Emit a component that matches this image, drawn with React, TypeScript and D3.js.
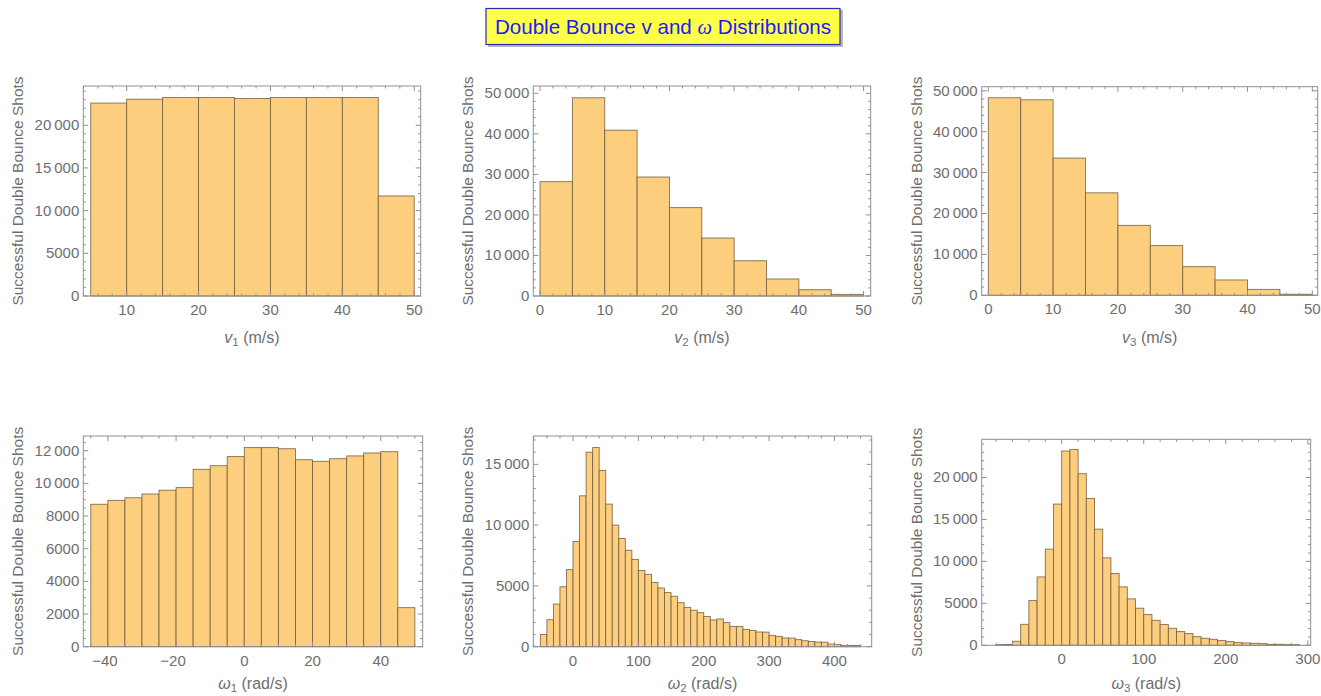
import React, { useEffect, useRef } from 'react'
import * as d3 from 'd3'

// Histogram counts, one value per bin
const v1Counts = [22600, 23050, 23250, 23250, 23130, 23250, 23250, 23250, 11720]
const v2Counts = [28200, 48900, 40900, 29350, 21800, 14300, 8700, 4200, 1550, 400]
const v3Counts = [48300, 47800, 33550, 25050, 17100, 12150, 7000, 3750, 1450, 250]
const w1Counts = [
  8720, 8960, 9120, 9350, 9580, 9740, 10860, 11080, 11640, 12190,
  12190, 12120, 11450, 11350, 11510, 11680, 11860, 11940, 2390,
]
const w2Counts = [
  1000, 2220, 3510, 4930, 6340, 8660, 12410, 16000, 16380, 14500,
  11730, 10000, 8900, 7930, 7180, 6270, 5950, 5290, 4830, 4450,
  4150, 3620, 3230, 3000, 2800, 2480, 2200, 2280, 1980, 1670,
  1670, 1420, 1340, 1210, 1200, 930, 850, 720, 710, 580,
  490, 430, 380, 370, 220, 190, 110, 110, 100,
]
const w3Counts = [
  80, 100, 480, 2500, 5330, 8150, 11460, 16830, 23150, 23350,
  20450, 17500, 13840, 10420, 8550, 6960, 5530, 4420, 3660, 2980,
  2470, 2030, 1630, 1390, 1030, 840, 720, 560, 440, 320,
  280, 240, 200, 120, 120, 80, 80,
]

// bin starts and widths
const v1Bin = [5, 5]
const v2Bin = [0, 5]
const v3Bin = [0, 5]
const w1Bin = [-45, 5]
const w2Bin = [-50, 10]
const w3Bin = [-80, 10]

// tick labels
const v1XTicks = [10, 20, 30, 40, 50]
const vXTicks = [0, 10, 20, 30, 40, 50]
const w1XTicks = [-40, -20, 0, 20, 40]
const w2XTicks = [0, 100, 200, 300, 400]
const w3XTicks = [0, 100, 200, 300]
const v1YTicks = [0, 5000, 10000, 15000, 20000]
const vYTicks = [0, 10000, 20000, 30000, 40000, 50000]
const w1YTicks = [0, 2000, 4000, 6000, 8000, 10000, 12000]
const w2YTicks = [0, 5000, 10000, 15000]
const w3YTicks = [0, 5000, 10000, 15000, 20000]

const yTitle = 'Successful Double Bounce Shots'

const panels = [
  { sym: 'v', sub: '1', unit: ' (m/s)', counts: v1Counts, bin: v1Bin, xt: v1XTicks, yt: v1YTicks,
    xMinor: 2, yMinor: 1000, xd: [3.97, 50.9], yMax: 24600, box: [83.3, 86, 420.7, 296], labY: 343 },
  { sym: 'v', sub: '2', unit: ' (m/s)', counts: v2Counts, bin: v2Bin, xt: vXTicks, yt: vYTicks,
    xMinor: 2, yMinor: 2000, xd: [-1.04, 51.1], yMax: 51800, box: [533.3, 86, 870.7, 296], labY: 343 },
  { sym: 'v', sub: '3', unit: ' (m/s)', counts: v3Counts, bin: v3Bin, xt: vXTicks, yt: vYTicks,
    xMinor: 2, yMinor: 2000, xd: [-1.02, 50.83], yMax: 51000, box: [981.7, 86.7, 1317.7, 295.3], labY: 343 },
  { sym: 'ω', sub: '1', unit: ' (rad/s)', counts: w1Counts, bin: w1Bin, xt: w1XTicks, yt: w1YTicks,
    xMinor: 5, yMinor: 500, xd: [-47.2, 52.3], yMax: 12900, box: [83.3, 436, 422.7, 646.7], labY: 689 },
  { sym: 'ω', sub: '2', unit: ' (rad/s)', counts: w2Counts, bin: w2Bin, xt: w2XTicks, yt: w2YTicks,
    xMinor: 20, yMinor: 1000, xd: [-60.8, 457], yMax: 17330, box: [533.3, 436, 871.7, 646.7], labY: 689 },
  { sym: 'ω', sub: '3', unit: ' (rad/s)', counts: w3Counts, bin: w3Bin, xt: w3XTicks, yt: w3YTicks,
    xMinor: 20, yMinor: 1000, xd: [-97.5, 303.5], yMax: 24550, box: [981.7, 439.3, 1310.7, 645.3], labY: 689 },
]

const font = "'Liberation Sans', Arial, sans-serif"
const labelGray = '#6e6e6e'
const frameGray = '#8f8f8f'

function fmt(v: number) {
  const s = String(Math.abs(v))
  const body = Math.abs(v) >= 10000 ? s.slice(0, s.length - 3) + '\u2009' + s.slice(-3) : s
  return (v < 0 ? '\u2212' : '') + body
}

export default function App() {
  const ref = useRef<SVGSVGElement | null>(null)

  useEffect(() => {
    const svg = d3.select(ref.current)
    svg.selectAll('*').remove()

    // Title box
    const title = svg.append('g')
    title.append('rect').attr('x', 488).attr('y', 10).attr('width', 355).attr('height', 37).attr('fill', '#b8b8b8')
    title.append('rect').attr('x', 486).attr('y', 8.5).attr('width', 354).attr('height', 36)
      .attr('fill', '#ffff47').attr('stroke', '#2b2bb0').attr('stroke-width', 1.2)
    const tt = title.append('text').attr('x', 663).attr('y', 34).attr('text-anchor', 'middle')
      .attr('font-family', font).attr('font-size', 20.6).attr('fill', '#1a1aff')
    tt.append('tspan').text('Double Bounce v and ')
    tt.append('tspan').attr('font-style', 'italic').attr('font-family', "'Liberation Serif', serif").text('ω')
    tt.append('tspan').text(' Distributions')

    panels.forEach(p => {
      const [l, t, r, b] = p.box
      const x = d3.scaleLinear().domain(p.xd).range([l, r])
      const y = d3.scaleLinear().domain([0, p.yMax]).range([b, t])
      const g = svg.append('g')

      const bins = p.counts.map((c, i) => ({ x0: p.bin[0] + i * p.bin[1], x1: p.bin[0] + (i + 1) * p.bin[1], c }))
      g.selectAll('rect.bar').data(bins).enter().append('rect')
        .attr('class', 'bar')
        .attr('x', d => x(d.x0))
        .attr('width', d => x(d.x1) - x(d.x0))
        .attr('y', d => y(d.c))
        .attr('height', d => y(0) - y(d.c))
        .attr('fill', '#fcce7d')
        .attr('stroke', '#6f5b3c')
        .attr('stroke-opacity', 0.85)
        .attr('stroke-width', 0.9)

      // frame
      g.append('rect').attr('x', l).attr('y', t).attr('width', r - l).attr('height', b - t)
        .attr('fill', 'none').attr('stroke', frameGray).attr('stroke-width', 1)

      const xMinor = d3.range(Math.ceil(p.xd[0] / p.xMinor) * p.xMinor, p.xd[1], p.xMinor)
        .filter(v => !p.xt.includes(v))
      const yMinor = d3.range(p.yMinor, p.yMax, p.yMinor).filter(v => !p.yt.includes(v))
      const tickLines: [number, number, number, number][] = []
      p.xt.forEach(v => { tickLines.push([x(v), b, x(v), b - 5]); tickLines.push([x(v), t, x(v), t + 5]) })
      xMinor.forEach(v => { tickLines.push([x(v), b, x(v), b - 2.5]); tickLines.push([x(v), t, x(v), t + 2.5]) })
      p.yt.forEach(v => { tickLines.push([l, y(v), l + 5, y(v)]); tickLines.push([r, y(v), r - 5, y(v)]) })
      yMinor.forEach(v => { tickLines.push([l, y(v), l + 2.5, y(v)]); tickLines.push([r, y(v), r - 2.5, y(v)]) })
      g.selectAll('line.tick').data(tickLines).enter().append('line')
        .attr('x1', d => d[0]).attr('y1', d => d[1]).attr('x2', d => d[2]).attr('y2', d => d[3])
        .attr('stroke', frameGray).attr('stroke-width', 1)

      g.selectAll('text.xt').data(p.xt).enter().append('text')
        .attr('x', d => x(d) - (d < 0 ? 3 : 0)).attr('y', b + 19)
        .attr('text-anchor', 'middle').attr('font-family', font).attr('font-size', 15)
        .attr('fill', labelGray).text(d => fmt(d))
      g.selectAll('text.yt').data(p.yt).enter().append('text')
        .attr('x', l - 4).attr('y', d => y(d) + 5)
        .attr('text-anchor', 'end').attr('font-family', font).attr('font-size', 15)
        .attr('fill', labelGray).text(d => fmt(d))

      // axis labels
      const xl = g.append('text').attr('x', (l + r) / 2).attr('y', p.labY).attr('text-anchor', 'middle')
        .attr('font-family', font).attr('font-size', 16).attr('fill', labelGray)
      xl.append('tspan').attr('font-style', 'italic').text(p.sym)
      xl.append('tspan').attr('font-size', 11.5).attr('dy', 3).text(p.sub)
      xl.append('tspan').attr('dy', -3).text(p.unit)

      g.append('text').attr('transform', `translate(${l - 60},${(t + b) / 2}) rotate(-90)`)
        .attr('text-anchor', 'middle').attr('font-family', font).attr('font-size', 15.5)
        .attr('fill', labelGray).text(yTitle)
    })
  }, [])

  return (
    <svg ref={ref} width={1321} height={696}
      style={{ position: 'absolute', left: 0, top: 0, background: '#fff' }} />
  )
}
